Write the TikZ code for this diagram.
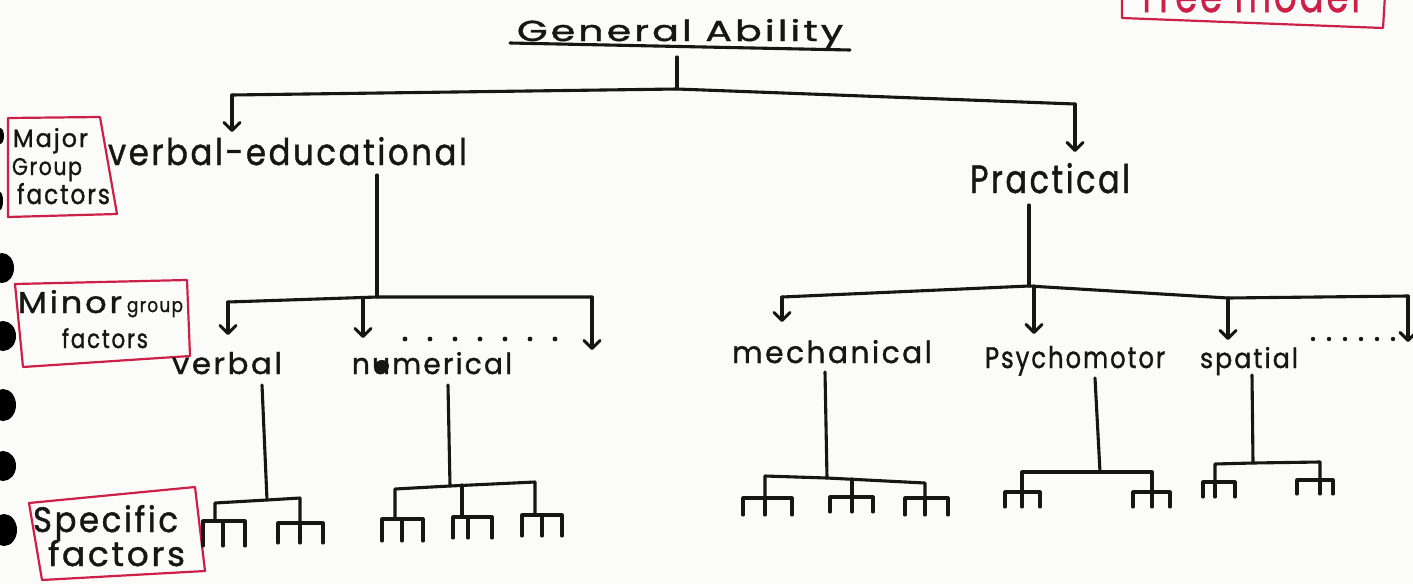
\documentclass[tikz,border=0pt]{standalone}
\usepackage{fontspec}
\setmainfont{Poppins}[LetterSpace=8,FakeBold=1.2]
\usepackage{graphicx}
\usetikzlibrary{arrows.meta,calc}
\definecolor{ink}{RGB}{22,22,22}
\definecolor{penred}{RGB}{205,32,72}
\definecolor{paper}{RGB}{251,251,250}
% text scaled to a given width and height (height = tallest glyph above the baseline)
\newcommand\hw[3]{\resizebox{#1}{#2}{#3}}
% small comb of three teeth: left, middle, right x; bar y; tooth bottom y
\newcommand\comb[5]{%
  \draw[wire] (#1,#5) -- (#1,#4) -- (#3,#4) -- (#3,#5);
  \draw[wire] (#2,#4) -- (#2,#5);}
\begin{document}
\begin{tikzpicture}[x=1pt,y=-1pt,
  wire/.style={draw=ink, line width=3.1pt, line cap=round, line join=round},
  arr/.style={wire, -{Straight Barb[length=8pt,width=16pt,round]}},
  frame/.style={draw=penred, line width=2.2pt, line join=round},
  lbl/.style={inner sep=0pt, outer sep=0pt, text=ink, anchor=base west},
  redlbl/.style={lbl, text=penred}]

\useasboundingbox (0,0) rectangle (1413,584);
\fill[paper] (0,0) rectangle (1413,584);

\begin{scope}
\clip (0,0) rectangle (1413,584);

% binder holes along the left edge
\fill[black] (0,136) ellipse (4pt and 8pt);
\fill[black] (0,201) ellipse (3pt and 9pt);
\fill[black] (2,268) ellipse (12pt and 15pt);
\fill[black] (3,336) ellipse (13pt and 15pt);
\fill[black] (3,405) ellipse (13pt and 16pt);
\fill[black] (3,466) ellipse (13pt and 15pt);
\fill[black] (4,530) ellipse (13pt and 16pt);

% heading of the page (top right)
\draw[frame] (1122,-5) -- (1122,18) -- (1383,28) -- (1385,-5);
\node[redlbl] (tm) at (1137,12) {\hw{223pt}{34pt}{Tree model}};

% level labels
\node[lbl] (maj1) at (13,147) {\hw{75pt}{19pt}{Major}};
\node[lbl] (maj2) at (12,175) {\hw{70pt}{17pt}{Group}};
\node[lbl] (maj3) at (17,204) {\hw{93pt}{21pt}{factors}};
\draw[frame] (8,118) -- (100,117) -- (117,214) -- (8,217) -- cycle;

\node[lbl] (min1) at (18,313) {\hw{104pt}{23pt}{Minor}};
\node[lbl] (min2) at (127,312) {\hw{56pt}{11pt}{group}};
\node[lbl] (min3) at (62,348) {\hw{86pt}{20pt}{factors}};
\draw[frame] (15,284) -- (187,280) -- (190,356) -- (23,367) -- cycle;

\node[lbl] (spc1) at (33,532) {\hw{145pt}{27pt}{Specific}};
\node[lbl] (spc2) at (48,566) {\hw{137pt}{26pt}{factors}};
\draw[frame] (29,503) -- (195,487) -- (205,571) -- (42,580) -- cycle;

% factor names
\node[lbl] (ga) at (517,41) {\hw{326pt}{22pt}{General Ability}};
\draw[wire] ($(ga.base west)+(-7,2)$) -- ($(ga.base east)+(7,9)$);
\node[lbl] (ve) at (108,165) {\hw{359pt}{28pt}{verbal-educational}};
\node[lbl] (pr) at (970,193) {\hw{160pt}{30pt}{Practical}};
\node[lbl] (vb) at (172,374) {\hw{110pt}{22pt}{verbal}};
\node[lbl] (nu) at (352,374) {\hw{160pt}{22pt}{numerical}};
\fill[ink] (382,366) ellipse (7pt and 6pt);
\node[lbl] (me) at (732,363) {\hw{200pt}{23pt}{mechanical}};
\node[lbl] (ps) at (985,368) {\hw{180pt}{22pt}{Psychomotor}};
\node[lbl] (sp) at (1200,368) {\hw{98pt}{21pt}{spatial}};

% general ability -> major group factors
\coordinate (t0) at (677,89);
\coordinate (tl) at (232,95);
\coordinate (tr) at (1075,104);
\draw[wire] (ga.base -| t0) ++(0,16) -- (t0);
\draw[wire] (tl) -- (t0) -- (tr);
\draw[arr, shorten >=5pt] (tl) -- (tl |- ve.north);
\draw[arr, shorten >=11pt] (tr) -- (tr |- pr.north);

% verbal-educational -> minor group factors
\coordinate (m0) at (377,297);
\coordinate (ml) at (228,302);
\coordinate (mm) at (363,298);
\coordinate (mr) at (592,297);
\coordinate (mx) at (592,350);
\draw[wire] (ve.base -| m0) ++(0,10) -- (m0);
\draw[wire] (ml) -- (m0) -- (mr);
\draw[arr, shorten >=17pt] (ml) -- (ml |- vb.north);
\draw[arr, shorten >=14pt] (mm) -- (mm |- nu.north);
\draw[arr] (mr) -- (mx);
\foreach \x in {405,430,...,555} \fill[ink] (\x,339) circle (2.4pt);

% practical -> minor group factors
\coordinate (p0) at (1029,286);
\coordinate (pl) at (782,297);
\coordinate (pp) at (1034,286);
\coordinate (pq) at (1228,298);
\coordinate (pR) at (1408,296);
\coordinate (px) at (1408,342);
\draw[wire] (pr.base -| p0) ++(0,12) -- (p0);
\draw[wire] (pl) -- (p0) -- (pq) -- (pR);
\draw[arr, shorten >=18pt] (pl) -- (pl |- me.north);
\draw[arr, shorten >=12pt] (pp) -- (pp |- ps.north);
\draw[arr, shorten >=7pt] (pq) -- (pq |- sp.north);
\draw[arr] (pR) -- (px);
\foreach \x in {1313,1329,...,1393} \fill[ink] (\x,339) circle (2.2pt);

% specific factors under verbal
\coordinate (v0) at (267,500);
\draw[wire] (vb.base -| v0) ++(-5,11) -- (v0);
\draw[wire] (215,521) -- (215,503) -- (v0) -- (300,498) -- (300,523);
\comb{203}{223}{245}{521}{546}
\comb{278}{300}{323}{523}{543}

% specific factors under numerical
\coordinate (n0) at (450,486);
\draw[wire] (nu.base -| n0) ++(-2,11) -- (n0);
\draw[wire] (395,519) -- (395,489) -- (n0) -- (535,482) -- (535,515);
\draw[wire] (462,485) -- (462,517);
\comb{382}{402}{423}{519}{541}
\comb{453}{468}{492}{517}{538}
\comb{522}{542}{562}{515}{536}

% specific factors under mechanical
\coordinate (c0) at (827,478);
\draw[wire] (me.base -| c0) ++(-2,9) -- (c0);
\draw[wire] (765,498) -- (765,476) -- (c0) -- (925,483) -- (925,498);
\draw[wire] (852,479) -- (852,497);
\comb{743}{765}{792}{498}{515}
\comb{830}{852}{873}{497}{512}
\comb{905}{925}{948}{498}{515}

% specific factors under psychomotor
\coordinate (s0) at (1100,472);
\draw[wire] (ps.base -| s0) ++(-5,10) -- (s0);
\draw[wire] (1022,492) -- (1022,472) -- (s0) -- (1152,472) -- (1152,492);
\comb{1005}{1022}{1040}{492}{507}
\comb{1133}{1152}{1170}{492}{507}

% specific factors under spatial
\coordinate (q0) at (1253,463);
\draw[wire] (sp.base -| q0) ++(-1,7) -- (q0);
\draw[wire] (1215,482) -- (1215,464) -- (q0) -- (1320,462) -- (1320,480);
\comb{1203}{1215}{1235}{482}{497}
\comb{1297}{1320}{1333}{480}{494}
\end{scope}
\end{tikzpicture}
\end{document}
